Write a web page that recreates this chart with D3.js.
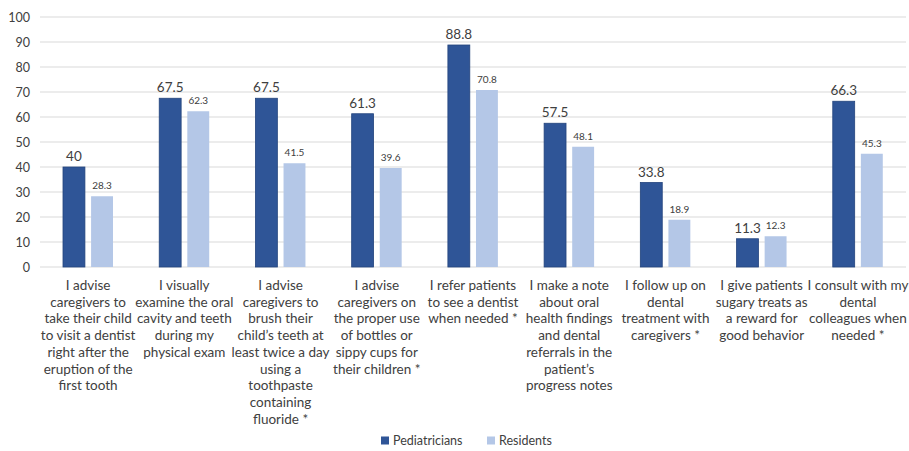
<!DOCTYPE html>
<html lang="en">
<head>
<meta charset="UTF-8">
<title>oral health practices</title>
<style>
  body { margin: 0; background: #fff; overflow: hidden; }
  text { font-family: Lato, "Open Sans", sans-serif; fill: #404040; }
</style>
</head>
<body>
<script src="https://cdnjs.cloudflare.com/ajax/libs/d3/7.8.2/d3.min.js"></script>
<script>
const categories = [
  "I advise\ncaregivers to\ntake their child\nto visit a dentist\nright after the\neruption of the\nfirst tooth",
  "I visually\nexamine the oral\ncavity and teeth\nduring my\nphysical exam",
  "I advise\ncaregivers to\nbrush their\nchild\u2019s teeth at\nleast twice a day\nusing a\ntoothpaste\ncontaining\nfluoride *",
  "I advise\ncaregivers on\nthe proper use\nof bottles or\nsippy cups for\ntheir children *",
  "I refer patients\nto see a dentist\nwhen needed *",
  "I make a note\nabout oral\nhealth findings\nand dental\nreferrals in the\npatient\u2019s\nprogress notes",
  "I follow up on\ndental\ntreatment with\ncaregivers *",
  "I give patients\nsugary treats as\na reward for\ngood behavior",
  "I consult with my\ndental\ncolleagues when\nneeded *"
];
const series = ["Pediatricians", "Residents"];
const pediatricians = [40, 67.5, 67.5, 61.3, 88.8, 57.5, 33.8, 11.3, 66.3];
const residents = [28.3, 62.3, 41.5, 39.6, 70.8, 48.1, 18.9, 12.3, 45.3];
const yTicks = [0, 10, 20, 30, 40, 50, 60, 70, 80, 90, 100];
const colors = ["#2F5597", "#B4C7E7"];

const W = 909, H = 451;
const svg = d3.select("body").append("svg").attr("width", W).attr("height", H);

const x = d3.scaleBand().domain(d3.range(categories.length)).range([40, 906]);
const xSub = d3.scaleBand().domain(series).range([23, 73]).paddingInner(0.22);
const y = d3.scaleLinear().domain([0, 100]).range([267, 17]);

// grid
svg.append("g").selectAll("line").data(yTicks).join("line")
  .attr("x1", 40).attr("x2", 906)
  .attr("y1", d => y(d)).attr("y2", d => y(d))
  .attr("stroke", "#d9d9d9").attr("stroke-width", 1);

// y axis labels
svg.append("g").selectAll("text").data(yTicks).join("text")
  .attr("x", 30).attr("y", d => y(d) + 4.5)
  .attr("text-anchor", "end").style("font-size", "12.5px")
  .text(d => d);

const rows = categories.map((c, i) => ({ i, vals: [pediatricians[i], residents[i]] }));
const groups = svg.append("g").selectAll("g").data(rows).join("g")
  .attr("transform", d => `translate(${x(d.i)},0)`);

groups.selectAll("rect").data(d => d.vals.map((v, k) => ({ v, k }))).join("rect")
  .attr("x", d => xSub(series[d.k]))
  .attr("width", xSub.bandwidth())
  .attr("y", d => y(d.v))
  .attr("height", d => y(0) - y(d.v))
  .attr("fill", d => colors[d.k])
  .attr("stroke", d => d.k === 0 ? "#23447d" : "none")
  .attr("stroke-width", 0.8);

groups.selectAll("text.val").data(d => d.vals.map((v, k) => ({ v, k }))).join("text")
  .attr("class", "val")
  .attr("x", d => xSub(series[d.k]) + xSub.bandwidth() / 2)
  .attr("y", d => y(d.v) - (d.k === 0 ? 6 : 7))
  .attr("text-anchor", "middle")
  .style("font-size", d => d.k === 0 ? "13.5px" : "10px")
  .text(d => d.v);

// category labels
groups.append("text")
  .attr("text-anchor", "middle")
  .style("font-size", "13.5px")
  .selectAll("tspan").data(d => categories[d.i].split("\n")).join("tspan")
  .attr("x", x.bandwidth() / 2)
  .attr("y", (d, j) => 290 + j * 16.7)
  .text(d => d);

// legend
const legend = svg.append("g");
const legX = [381, 487];
series.forEach((s, k) => {
  legend.append("rect").attr("x", legX[k]).attr("y", 436.5)
    .attr("width", 8).attr("height", 8).attr("fill", colors[k]);
  legend.append("text").attr("x", legX[k] + 12).attr("y", 445)
    .style("font-size", "12.5px").text(s);
});
</script>
</body>
</html>
